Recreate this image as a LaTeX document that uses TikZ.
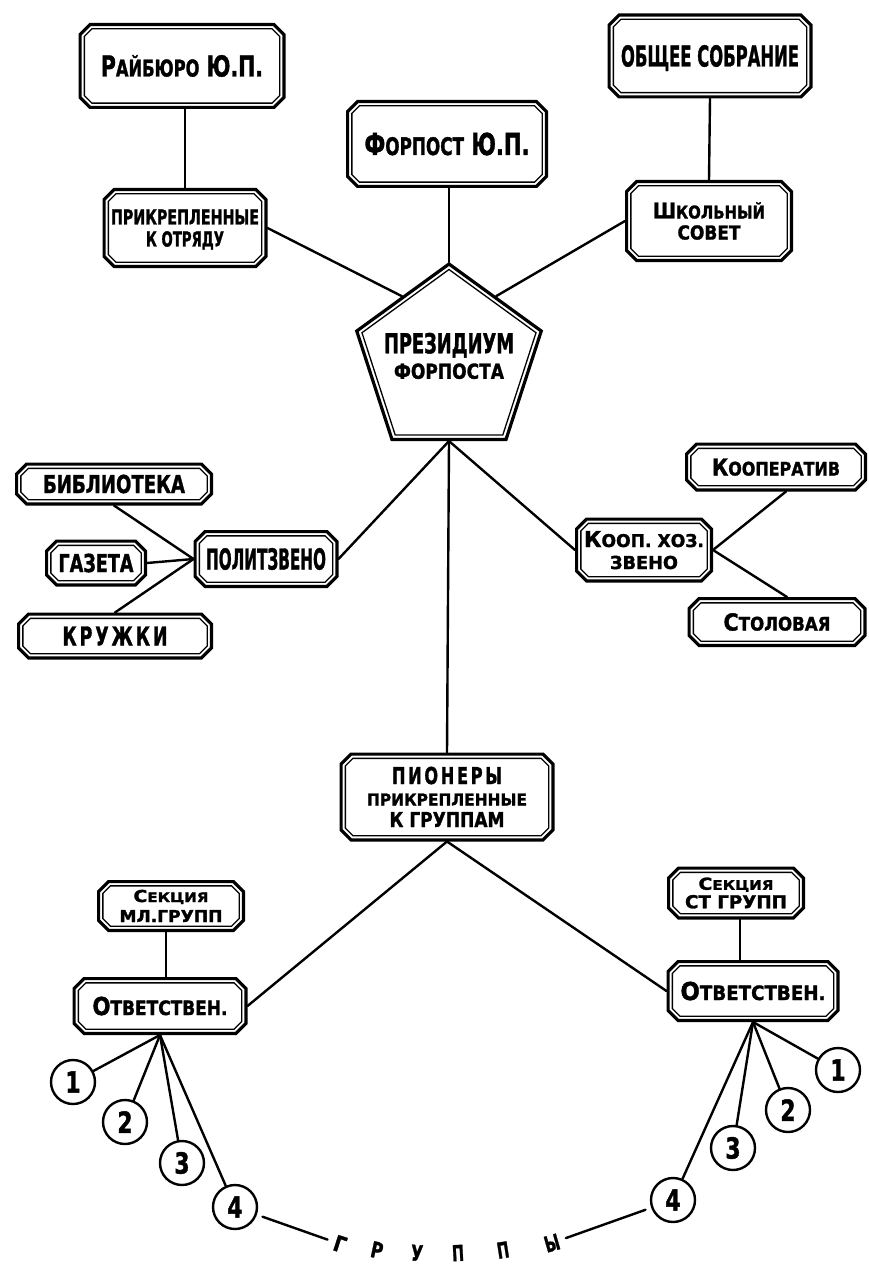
\documentclass[tikz,border=0pt]{standalone}
\usepackage{fontspec}
\setmainfont{DejaVu Sans}[BoldFeatures={FakeBold=1.6}]
\usepackage{graphicx}
\usetikzlibrary{shapes.geometric,calc}

% small capitals made from scaled capitals
\newcommand\sm[1]{\scalebox{0.8}{#1}}
% a line of lettering set to a given width and cap height
\newcommand\tl[3]{\resizebox{#1pt}{#2pt}{\smash{#3}\rule{0pt}{\fontcharht\font`\X}}}
% a digit inside a circle
\newcommand\dg[1]{\scalebox{0.75}[1]{\fontsize{29}{29}\selectfont #1}}

\tikzset{
  boxframe/.style={rectangle, draw=none, inner sep=0pt, outer sep=0pt, align=center},
  outerline/.style={line width=3.2pt, line join=miter},
  innerline/.style={line width=1.3pt, line join=miter},
  conn/.style={line width=2.4pt, line cap=round},
  num/.style={circle, draw, line width=2.4pt, minimum size=44pt, inner sep=0pt, font=\bfseries},
  letter/.style={inner sep=1pt, font=\bfseries},
}

% octagon inside node #1, inset #2 from its edge, corners cut by #3
\newcommand\octpath[3]{%
  ($(#1.north west)+(#2+#3,#2)$) -- ($(#1.north east)+(-#2-#3,#2)$) --
  ($(#1.north east)+(-#2,#2+#3)$) -- ($(#1.south east)+(-#2,-#2-#3)$) --
  ($(#1.south east)+(-#2-#3,-#2)$) -- ($(#1.south west)+(#2+#3,-#2)$) --
  ($(#1.south west)+(#2,-#2-#3)$) -- ($(#1.north west)+(#2,#2+#3)$) -- cycle}

% double-framed octagonal box: [baselineskip]{name}{x,y}{width}{height}{text}
\newcommand\obox[6][22]{%
  \node[boxframe, minimum width=#4pt, minimum height=#5pt,
        font=\bfseries\fontsize{10}{#1}\selectfont] (#2) at (#3) {#6};
  \draw[outerline] \octpath{#2}{1.6}{10};
  \draw[innerline] \octpath{#2}{5.85}{7.5};
}

\begin{document}
\begin{tikzpicture}[x=1pt, y=-1pt]
\useasboundingbox (0,0) rectangle (869,1265);

% upper boxes
\obox{raib}{182,66}{207}{86}{\tl{162}{21}{Р\sm{АЙБЮРО} Ю.П.}}
\obox[22]{prk}{185,228}{165}{80}{\tl{148}{15}{ПРИКРЕПЛЕННЫЕ}\\\tl{78}{15}{К ОТРЯДУ}}
\obox{forp}{447,144}{202}{88}{\tl{165}{22}{Ф\sm{ОРПОСТ} Ю.П.}}
\obox{obsh}{710,56}{205}{85}{\tl{178}{21}{ОБЩЕЕ СОБРАНИЕ}}
\obox[21]{shk}{709,221}{168}{82}{\tl{112}{16}{Ш\sm{КОЛЬНЫЙ}}\\\tl{63}{14}{СОВЕТ}}

% the pentagon
\node[regular polygon, regular polygon sides=5, draw, line width=3.2pt,
      minimum size=194pt, inner sep=0pt] (pres) at (449,361) {};
\node[regular polygon, regular polygon sides=5, draw, line width=1.3pt,
      minimum size=183pt, inner sep=0pt] (pres-i) at (pres.center) {};
\node[font=\bfseries\fontsize{10}{25.5}\selectfont, align=center] (pres-t) at (449,356)
  {\tl{130}{20}{ПРЕЗИДИУМ}\\\tl{110}{15}{ФОРПОСТА}};

% middle boxes
\obox{bib}{114,484}{198}{43}{\tl{142}{18}{БИБЛИОТЕКА}}
\obox{gaz}{96,563}{102}{47}{\tl{75}{18}{ГАЗЕТА}}
\obox{kru}{115,636}{196}{47}{\tl{105}{19}{К\,Р\,У\,Ж\,К\,И}}
\obox{pol}{266,559}{145}{58}{\tl{120}{21}{ПОЛИТЗВЕНО}}
\obox{kprt}{776,467}{182}{49}{\tl{128}{17}{К\sm{ООПЕРАТИВ}}}
\obox[22]{kx}{644,550}{138}{65}{\tl{120}{16}{К\sm{ООП. ХОЗ.}}\\\tl{68}{13}{ЗВЕНО}}
\obox{stol}{777,622}{179}{50}{\tl{107}{17}{С\sm{ТОЛОВАЯ}}}

% lower boxes
\obox[21.5]{pion}{447,797}{215}{89}{\tl{110}{17}{П\,И\,О\,Н\,Е\,Р\,Ы}\\\tl{160}{12}{ПРИКРЕПЛЕННЫЕ}\\\tl{115}{15}{К ГРУППАМ}}
\obox[20]{secL}{171,906}{148}{52}{\tl{75}{12}{С\sm{ЕКЦИЯ}}\\\tl{103}{12}{МЛ.ГРУПП}}
\obox{otvL}{160,1006}{175}{58}{\tl{135}{18}{О\sm{ТВЕТСТВЕН.}}}
\obox[18.5]{secR}{736,893}{138}{53}{\tl{75}{12}{С\sm{ЕКЦИЯ}}\\\tl{102}{13}{СТ ГРУПП}}
\obox{otvR}{753,991}{173}{62}{\tl{145}{18}{О\sm{ТВЕТСТВЕН.}}}

% numbered groups
\node[num] (cL1) at (73,1082) {\dg{1}};
\node[num] (cL2) at (125,1122) {\dg{2}};
\node[num] (cL3) at (182,1163) {\dg{3}};
\node[num] (cL4) at (235,1207) {\dg{4}};
\node[num] (cR1) at (838,1070) {\dg{1}};
\node[num] (cR2) at (788,1110) {\dg{2}};
\node[num] (cR3) at (733,1148) {\dg{3}};
\node[num] (cR4) at (673,1200) {\dg{4}};

% the word along the bottom arc
\node[letter, rotate=-18] (gr1) at (340,1244) {\tl{12}{16}{Г}};
\node[letter, rotate=-12] (gr2) at (377,1250) {\tl{12}{16}{Р}};
\node[letter, rotate=-4]  (gr3) at (417,1253) {\tl{12}{16}{У}};
\node[letter, rotate=3]   (gr4) at (458,1253) {\tl{12}{16}{П}};
\node[letter, rotate=9]   (gr5) at (503,1250) {\tl{12}{16}{П}};
\node[letter, rotate=16]  (gr6) at (552,1243) {\tl{15}{16}{Ы}};

% connectors
\draw[conn] (prk.north |- raib.south) -- (prk.north);
\draw[conn] (pres.corner 1 |- forp.south) -- (pres.corner 1);
\draw[conn] (obsh.south) -- (shk.north);
\draw[conn] (prk.east) -- (pres.side 1);
\draw[conn] (shk.west) -- (pres.side 5);
\draw[conn] (pres.side 3) -- (pol.east);
\draw[conn] (pres.side 3) -- (pion.north);
\draw[conn] (pres.side 3) -- (kx.west);
\draw[conn] (pol.west) -- (bib.south);
\draw[conn] (pol.west) -- (gaz.east);
\draw[conn] (pol.west) -- (kru.north);
\draw[conn] (kx.east) -- ($(kprt.south)+(10,0)$);
\draw[conn] (kx.east) -- ($(stol.north)+(10,0)$);
\draw[conn] (pion.south) -- (otvL.east);
\draw[conn] (pion.south) -- (otvR.west);
\draw[conn] ($(secL.south)+(-5,0)$) -- ($(secL.south |- otvL.north)+(-5,0)$);
\draw[conn] ($(secR.south)+(4,0)$) -- ($(secR.south |- otvR.north)+(4,0)$);
\foreach \c in {cL1,cL2,cL3,cL4} \draw[conn] (otvL.south) -- (\c);
\foreach \c in {cR1,cR2,cR3,cR4} \draw[conn] (otvR.south) -- (\c);
\draw[conn, shorten <=6pt, shorten >=6pt] (cL4) -- (gr1);
\draw[conn, shorten <=6pt, shorten >=6pt] (gr6) -- (cR4);
\end{tikzpicture}
\end{document}
